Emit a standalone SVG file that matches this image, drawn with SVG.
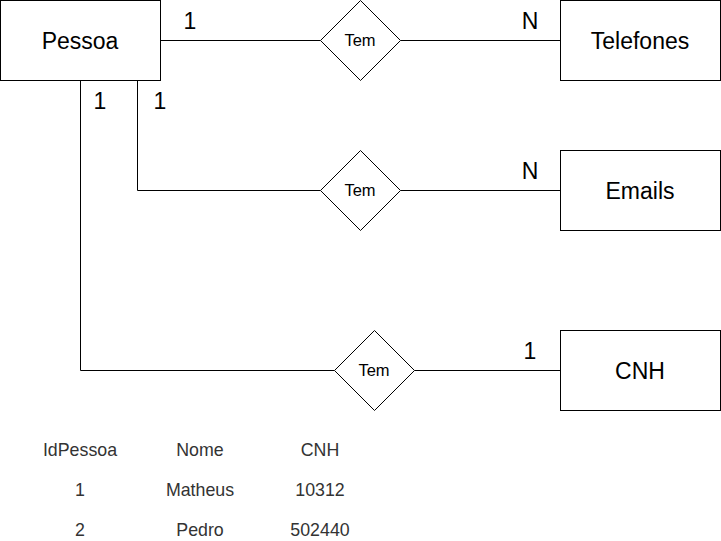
<svg xmlns="http://www.w3.org/2000/svg" width="721" height="541" viewBox="0 0 721 541">
<style>
.ent{fill:#fff;stroke:#000;stroke-width:1}
.rel{fill:#fff;stroke:#000;stroke-width:1}
.big{font-family:"Liberation Sans",Arial,sans-serif;font-size:23px;fill:#000;text-anchor:middle;dominant-baseline:central}
.sm{font-family:"Liberation Sans",Arial,sans-serif;font-size:16.5px;fill:#000;text-anchor:middle;dominant-baseline:central}
.tb{font-family:"Liberation Sans",Arial,sans-serif;font-size:17.8px;fill:#333;text-anchor:middle;dominant-baseline:central}
.edge{fill:none;stroke:#000;stroke-width:1}
</style>
<rect width="721" height="541" fill="#fff"/>
<g id="connectors">
<path class="edge" d="M160.5 40.5H320.5"/>
<path class="edge" d="M400.5 40.5H560.5"/>
<path class="edge" d="M137.5 80.5V190.5H320.5"/>
<path class="edge" d="M400.5 190.5H560.5"/>
<path class="edge" d="M80.5 80.5V370.5H334.5"/>
<path class="edge" d="M414.5 370.5H560.5"/>
<text class="big" x="190" y="21">1</text>
<text class="big" x="530" y="21">N</text>
<text class="big" x="100" y="101">1</text>
<text class="big" x="160" y="101">1</text>
<text class="big" x="530" y="171">N</text>
<text class="big" x="530" y="351">1</text>
</g>
<g id="pessoa"><rect class="ent" x="0.5" y="0.5" width="160" height="80"/><text class="big" x="80" y="41">Pessoa</text></g>
<g id="telefones"><rect class="ent" x="560.5" y="0.5" width="160" height="80"/><text class="big" x="640" y="41">Telefones</text></g>
<g id="emails"><rect class="ent" x="560.5" y="150.5" width="160" height="80"/><text class="big" x="640" y="191">Emails</text></g>
<g id="cnh"><rect class="ent" x="560.5" y="330.5" width="160" height="80"/><text class="big" x="640" y="371">CNH</text></g>
<g id="tem1"><path class="rel" d="M360.5 0.5L400.5 40.5L360.5 80.5L320.5 40.5Z"/><text class="sm" x="360" y="40">Tem</text></g>
<g id="tem2"><path class="rel" d="M360.5 150.5L400.5 190.5L360.5 230.5L320.5 190.5Z"/><text class="sm" x="360" y="190">Tem</text></g>
<g id="tem3"><path class="rel" d="M374.5 330.5L414.5 370.5L374.5 410.5L334.5 370.5Z"/><text class="sm" x="374" y="370">Tem</text></g>
<g id="tabela">
<text class="tb" x="80" y="450">IdPessoa</text>
<text class="tb" x="200" y="450">Nome</text>
<text class="tb" x="320" y="450">CNH</text>
<text class="tb" x="80" y="490">1</text>
<text class="tb" x="200" y="490">Matheus</text>
<text class="tb" x="320" y="490">10312</text>
<text class="tb" x="80" y="530">2</text>
<text class="tb" x="200" y="530">Pedro</text>
<text class="tb" x="320" y="530">502440</text>
</g>
</svg>
